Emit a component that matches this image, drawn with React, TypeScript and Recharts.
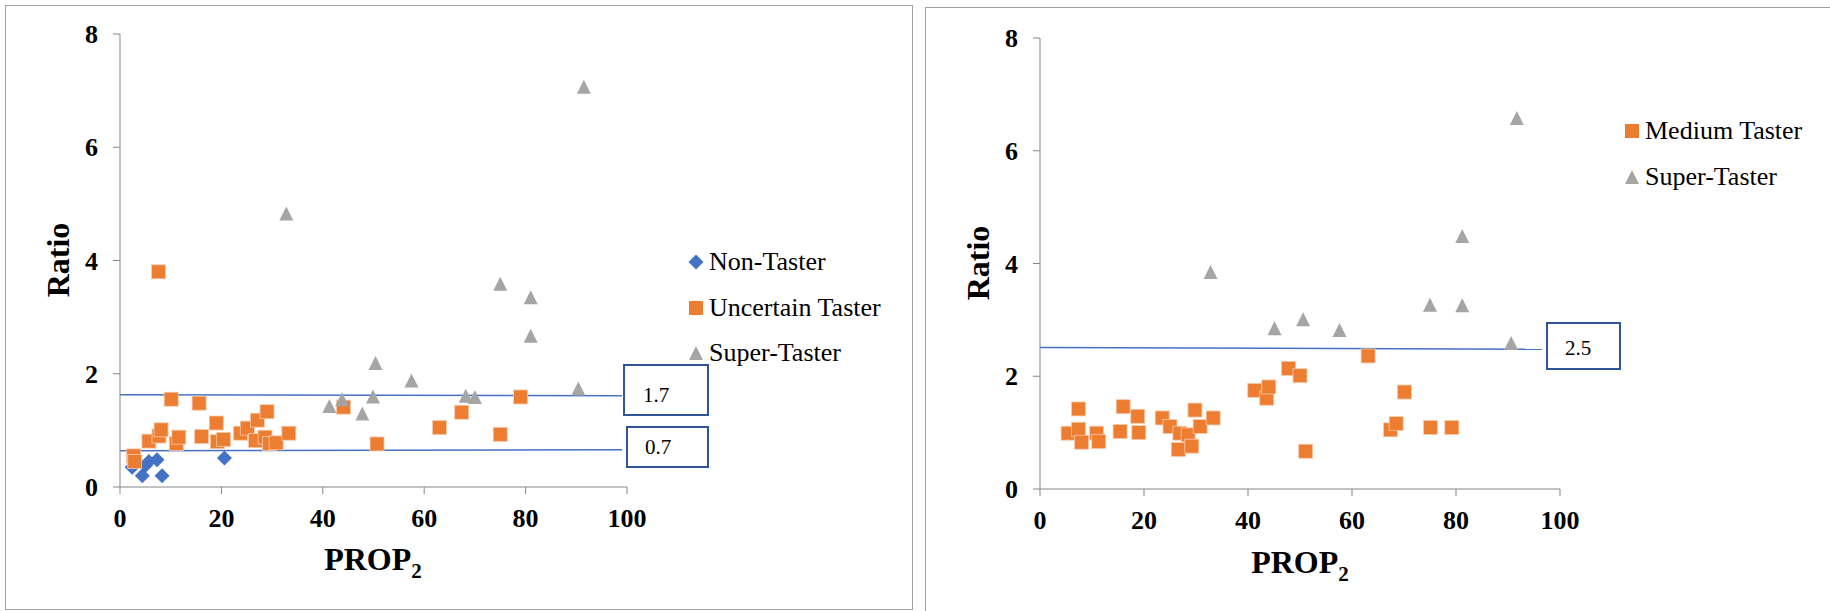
import { ScatterChart, Scatter, XAxis, YAxis, ReferenceLine } from 'recharts';

// left panel: PROP2 vs ratio, three groups
const nonTasterX = [2.4, 4.4, 5.0, 5.7, 7.3, 8.3, 20.6];
const nonTasterY = [0.35, 0.2, 0.38, 0.45, 0.48, 0.2, 0.51];

const uncertainX = [2.7, 2.9, 5.7, 7.6, 7.7, 8.1, 10.1, 11.1, 11.6, 15.6, 16.1, 19.0, 19.2, 20.4, 23.8, 25.1, 26.7, 27.1, 28.6, 29.0, 29.5, 30.8, 33.3, 44.1, 50.7, 63.0, 67.4, 75.0, 79.0];
const uncertainY = [0.55, 0.45, 0.81, 3.8, 0.9, 1.01, 1.55, 0.77, 0.88, 1.48, 0.89, 1.13, 0.8, 0.84, 0.95, 1.04, 0.82, 1.18, 0.88, 1.33, 0.77, 0.78, 0.95, 1.41, 0.76, 1.05, 1.32, 0.93, 1.59];

const superLeftX = [32.8, 41.3, 43.8, 47.8, 49.9, 50.4, 57.5, 68.2, 70.0, 75.0, 81.0, 81.0, 90.4, 91.5];
const superLeftY = [4.83, 1.43, 1.55, 1.3, 1.6, 2.19, 1.88, 1.61, 1.59, 3.59, 3.35, 2.67, 1.74, 7.07];

// right panel: two groups
const mediumX = [5.4, 7.4, 7.4, 8.0, 10.9, 11.3, 15.4, 16.0, 18.8, 19.0, 23.5, 25.0, 26.9, 26.6, 28.5, 29.2, 29.8, 30.8, 33.3, 41.3, 43.6, 44.0, 47.8, 50.0, 51.1, 63.1, 67.4, 68.5, 70.1, 75.1, 79.2];
const mediumY = [0.99, 1.42, 1.06, 0.83, 0.99, 0.84, 1.02, 1.46, 1.29, 1.0, 1.26, 1.11, 0.99, 0.7, 0.96, 0.76, 1.4, 1.11, 1.26, 1.75, 1.61, 1.81, 2.14, 2.01, 0.67, 2.36, 1.05, 1.16, 1.72, 1.09, 1.09];

const superRightX = [32.8, 45.1, 50.6, 57.6, 75.0, 81.2, 81.2, 90.6, 91.7];
const superRightY = [3.85, 2.85, 3.01, 2.82, 3.27, 3.26, 4.49, 2.59, 6.58];

const xTicks = [0, 20, 40, 60, 80, 100];
const yTicks = [0, 2, 4, 6, 8];

const toPoints = (xs: number[], ys: number[]) => xs.map((x, i) => ({ x, y: ys[i] }));

const BLUE = '#4472C4';
const ORANGE = '#ED7D31';
const GRAY = '#A5A5A5';
const BOX = '#2F5597';
const AXIS = '#868686';
const FONT = '"Liberation Serif", "Times New Roman", serif';

const Diamond = (props: any) => {
  const { cx, cy } = props;
  return <path d={`M${cx},${cy - 7.5}L${cx + 7.5},${cy}L${cx},${cy + 7.5}L${cx - 7.5},${cy}Z`} fill={BLUE} />;
};

const Square = (props: any) => {
  const { cx, cy } = props;
  return <rect x={cx - 7} y={cy - 7} width={14} height={14} fill={ORANGE} stroke="#F8CBAD" strokeWidth={0.8} />;
};

const Triangle = (props: any) => {
  const { cx, cy } = props;
  return <path d={`M${cx},${cy - 7}L${cx + 7},${cy + 7}L${cx - 7},${cy + 7}Z`} fill={GRAY} />;
};

// bold serif tick labels, drawn by hand so the weight sticks
const XTick = (props: any) => {
  const { x, y, payload } = props;
  return (
    <text x={x} y={y} dy={19} textAnchor="middle" fontFamily={FONT} fontWeight={700} fontSize={26} fill="#000">
      {payload.value}
    </text>
  );
};

const YTick = (props: any) => {
  const { x, y, payload } = props;
  return (
    <text x={x} y={y} dy={9} textAnchor="end" fontFamily={FONT} fontWeight={700} fontSize={26} fill="#000">
      {payload.value}
    </text>
  );
};

function LegendRows({ left, top, items }: { left: number; top: number; items: { name: string; mark: string }[] }) {
  return (
    <div style={{ position: 'absolute', left, top }}>
      {items.map((it, i) => (
        <div key={it.name} style={{ position: 'absolute', left: 0, top: i * 45.5, height: 26, display: 'flex', alignItems: 'center', whiteSpace: 'nowrap' }}>
          <svg width={16} height={16} style={{ marginRight: 5 }}>
            {it.mark === 'diamond' && <path d="M8,0.5L15.5,8L8,15.5L0.5,8Z" fill={BLUE} />}
            {it.mark === 'square' && <rect x={1} y={1} width={14} height={14} fill={ORANGE} />}
            {it.mark === 'triangle' && <path d="M8,1L15,15L1,15Z" fill={GRAY} />}
          </svg>
          <span style={{ fontFamily: FONT, fontSize: 26, lineHeight: '26px', color: '#000' }}>{it.name}</span>
        </div>
      ))}
    </div>
  );
}

function ValueBox({ left, top, width, height, pad, padTop, text }: any) {
  return (
    <div
      style={{
        position: 'absolute', left, top, width, height, boxSizing: 'border-box',
        border: `2.5px solid ${BOX}`, background: '#fff', display: 'flex', alignItems: 'center',
        paddingLeft: pad, paddingTop: padTop || 0, fontFamily: FONT, fontSize: 21, color: '#000',
      }}
    >
      {text}
    </div>
  );
}

function AxisTitles({ ratioX, ratioY, propX, propTop }: any) {
  return (
    <>
      <div style={{ position: 'absolute', left: ratioX, top: ratioY, transform: 'translate(-50%, -50%) rotate(-90deg)', fontFamily: FONT, fontWeight: 'bold', fontSize: 32, lineHeight: 1, whiteSpace: 'nowrap' }}>
        Ratio
      </div>
      <div style={{ position: 'absolute', left: propX, top: propTop, transform: 'translateX(-50%)', fontFamily: FONT, fontWeight: 'bold', fontSize: 32, lineHeight: 1, whiteSpace: 'nowrap' }}>
        PROP<span style={{ fontSize: 21, position: 'relative', top: 8 }}>2</span>
      </div>
    </>
  );
}

export default function App() {
  return (
    <div style={{ position: 'absolute', left: 0, top: 0, width: 1830, height: 611, overflow: 'hidden', background: '#fff' }}>
      {/* panel frames */}
      <div style={{ position: 'absolute', left: 5, top: 5, width: 908, height: 605, boxSizing: 'border-box', border: '1.5px solid #a0a0a0' }} />
      <div style={{ position: 'absolute', left: 925, top: 7, width: 950, height: 650, boxSizing: 'border-box', border: '1.5px solid #a0a0a0' }} />

      <div style={{ position: 'absolute', left: 0, top: 0 }}>
        <ScatterChart width={913} height={611} margin={{ top: 34, right: 286, bottom: 0, left: 0 }}>
          <XAxis type="number" dataKey="x" domain={[0, 100]} ticks={xTicks} height={124} tick={<XTick />} tickSize={7} tickMargin={14} axisLine={{ stroke: AXIS }} tickLine={{ stroke: AXIS }} />
          <YAxis type="number" dataKey="y" domain={[0, 8]} ticks={yTicks} width={120} tick={<YTick />} tickSize={7} tickMargin={15} axisLine={{ stroke: AXIS }} tickLine={{ stroke: AXIS }} />
          <ReferenceLine segment={[{ x: 0, y: 1.63 }, { x: 99, y: 1.61 }]} stroke={BLUE} strokeWidth={1.5} ifOverflow="visible" />
          <ReferenceLine segment={[{ x: 0, y: 0.64 }, { x: 99, y: 0.66 }]} stroke={BLUE} strokeWidth={1.5} ifOverflow="visible" />
          <Scatter name="Non-Taster" data={toPoints(nonTasterX, nonTasterY)} shape={Diamond} isAnimationActive={false} />
          <Scatter name="Uncertain Taster" data={toPoints(uncertainX, uncertainY)} shape={Square} isAnimationActive={false} />
          <Scatter name="Super-Taster" data={toPoints(superLeftX, superLeftY)} shape={Triangle} isAnimationActive={false} />
        </ScatterChart>
      </div>

      <div style={{ position: 'absolute', left: 920, top: 0 }}>
        <ScatterChart width={910} height={611} margin={{ top: 38, right: 270, bottom: 0, left: 0 }}>
          <XAxis type="number" dataKey="x" domain={[0, 100]} ticks={xTicks} height={122} tick={<XTick />} tickSize={7} tickMargin={14} axisLine={{ stroke: AXIS }} tickLine={{ stroke: AXIS }} />
          <YAxis type="number" dataKey="y" domain={[0, 8]} ticks={yTicks} width={120} tick={<YTick />} tickSize={7} tickMargin={15} axisLine={{ stroke: AXIS }} tickLine={{ stroke: AXIS }} />
          <ReferenceLine segment={[{ x: 0, y: 2.51 }, { x: 96.5, y: 2.48 }]} stroke={BLUE} strokeWidth={1.5} ifOverflow="visible" />
          <Scatter name="Medium Taster" data={toPoints(mediumX, mediumY)} shape={Square} isAnimationActive={false} />
          <Scatter name="Super-Taster" data={toPoints(superRightX, superRightY)} shape={Triangle} isAnimationActive={false} />
        </ScatterChart>
      </div>

      <AxisTitles ratioX={58} ratioY={260} propX={373} propTop={543} />
      <AxisTitles ratioX={978} ratioY={263} propX={1300} propTop={546} />

      <LegendRows
        left={688}
        top={249}
        items={[
          { name: 'Non-Taster', mark: 'diamond' },
          { name: 'Uncertain Taster', mark: 'square' },
          { name: 'Super-Taster', mark: 'triangle' },
        ]}
      />
      <LegendRows
        left={1624}
        top={118}
        items={[
          { name: 'Medium Taster', mark: 'square' },
          { name: 'Super-Taster', mark: 'triangle' },
        ]}
      />

      <ValueBox left={623} top={364} width={86} height={52} pad={18} padTop={10} text="1.7" />
      <ValueBox left={626} top={426} width={83} height={42} pad={17} text="0.7" />
      <ValueBox left={1546} top={322} width={75} height={48} pad={17} padTop={5} text="2.5" />
    </div>
  );
}
